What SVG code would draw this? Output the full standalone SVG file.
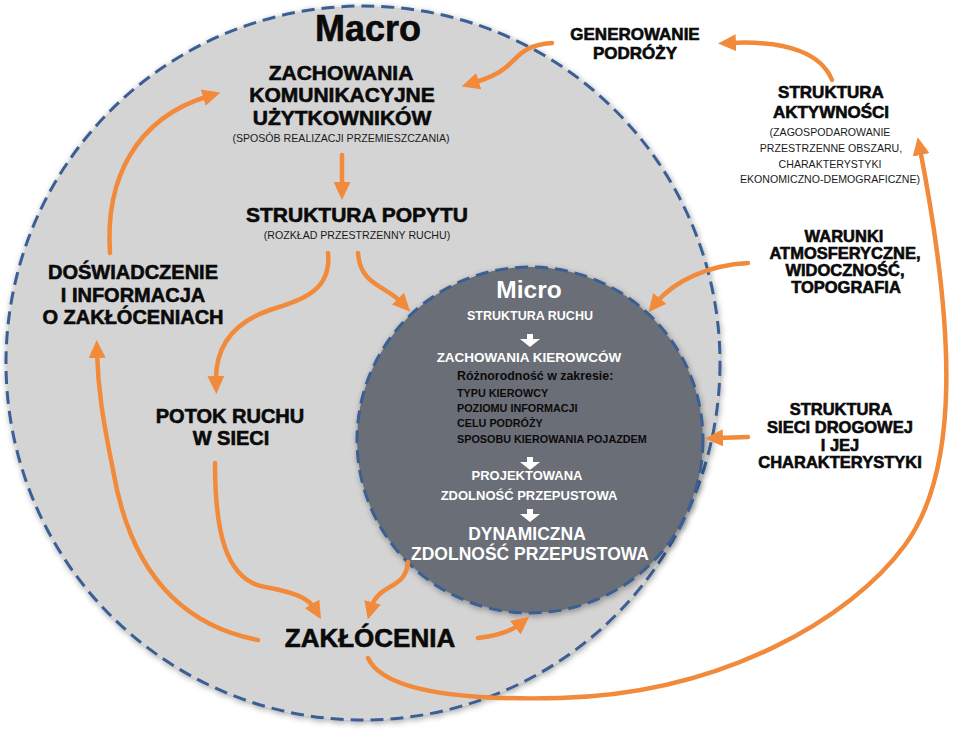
<svg xmlns="http://www.w3.org/2000/svg" width="963" height="735" viewBox="0 0 963 735">
<style>
.h{font-family:"Liberation Sans",Arial,sans-serif;font-weight:bold;fill:#0a0a0a;stroke:#0a0a0a;stroke-width:0.6;text-anchor:middle}
.s{font-family:"Liberation Sans",Arial,sans-serif;font-size:10.6px;fill:#1a1a1a;text-anchor:middle}
.w{font-family:"Liberation Sans",Arial,sans-serif;font-weight:bold;fill:#ffffff;text-anchor:middle}
.k{font-family:"Liberation Sans",Arial,sans-serif;font-weight:bold;fill:#0a0a0a}
.c{fill:none;stroke:#f28a3c;stroke-width:4.5;stroke-linecap:round;marker-end:url(#ah)}
.wa{fill:#ffffff}
</style>
<defs>
<marker id="ah" viewBox="0 0 18 17" markerWidth="18" markerHeight="17" refX="6" refY="8.5" orient="auto" markerUnits="userSpaceOnUse">
<path d="M0,0 L18,8.5 L0,17 z" fill="#f28a3c"/>
</marker>
<filter id="sh" x="-10%" y="-10%" width="120%" height="120%">
<feGaussianBlur in="SourceAlpha" stdDeviation="3"/>
<feOffset dx="1" dy="2" result="b"/>
<feComponentTransfer><feFuncA type="linear" slope="0.35"/></feComponentTransfer>
<feMerge><feMergeNode/><feMergeNode in="SourceGraphic"/></feMerge>
</filter>
</defs>
<rect width="963" height="735" fill="#ffffff"/>

<g id="macro">
<circle cx="363" cy="363" r="357" fill="#d4d4d4" stroke="#3b5f94" stroke-width="3" stroke-dasharray="13 7" filter="url(#sh)"/>
<text class="h" x="368" y="41" font-size="36">Macro</text>
</g>

<g id="micro">
<circle cx="530" cy="440" r="173" fill="#6b6e76" stroke="#3b5f94" stroke-width="3" stroke-dasharray="13 7" filter="url(#sh)"/>
<text class="w" x="529" y="298" font-size="24.5">Micro</text>
<text class="w" x="530" y="320" font-size="12.5">STRUKTURA RUCHU</text>
<path class="wa" d="M527,334 h6 v5 h7 l-10,8 l-10,-8 h7 z"/>
<text class="w" x="529" y="362" font-size="13.5">ZACHOWANIA KIEROWCÓW</text>
<text class="k" x="457" y="380" font-size="12.4">Różnorodność w zakresie:</text>
<text class="k" x="457" y="397" font-size="10.8">TYPU KIEROWCY</text>
<text class="k" x="457" y="412" font-size="10.8">POZIOMU INFORMACJI</text>
<text class="k" x="457" y="427" font-size="10.8">CELU PODRÓŻY</text>
<text class="k" x="457" y="443" font-size="10.8">SPOSOBU KIEROWANIA POJAZDEM</text>
<path class="wa" d="M527,457 h6 v5 h7 l-10,8 l-10,-8 h7 z"/>
<text class="w" x="527" y="480" font-size="13">PROJEKTOWANA</text>
<text class="w" x="529" y="500" font-size="13">ZDOLNOŚĆ PRZEPUSTOWA</text>
<path class="wa" d="M527,509 h6 v5 h7 l-10,8 l-10,-8 h7 z"/>
<text class="w" x="527" y="540" font-size="17.5">DYNAMICZNA</text>
<text class="w" x="530" y="560" font-size="17.5">ZDOLNOŚĆ PRZEPUSTOWA</text>
</g>

<g id="zachowania">
<text class="h" x="341" y="80" font-size="21">ZACHOWANIA</text>
<text class="h" x="342" y="102" font-size="21">KOMUNIKACYJNE</text>
<text class="h" x="342" y="125" font-size="21">UŻYTKOWNIKÓW</text>
<text class="s" x="341" y="142">(SPOSÓB REALIZACJI PRZEMIESZCZANIA)</text>
</g>

<g id="popyt">
<text class="h" x="357" y="222" font-size="21">STRUKTURA POPYTU</text>
<text class="s" x="357" y="239">(ROZKŁAD PRZESTRZENNY RUCHU)</text>
</g>

<g id="generowanie">
<text class="h" x="635" y="40" font-size="17">GENEROWANIE</text>
<text class="h" x="635" y="59" font-size="17">PODRÓŻY</text>
</g>

<g id="aktywnosc">
<text class="h" x="831" y="98" font-size="17">STRUKTURA</text>
<text class="h" x="831" y="118" font-size="17">AKTYWNOŚCI</text>
<text class="s" x="830" y="136">(ZAGOSPODAROWANIE</text>
<text class="s" x="831" y="152">PRZESTRZENNE OBSZARU,</text>
<text class="s" x="830" y="168">CHARAKTERYSTYKI</text>
<text class="s" x="830" y="183">EKONOMICZNO-DEMOGRAFICZNE)</text>
</g>

<g id="warunki">
<text class="h" x="844" y="242" font-size="16.5">WARUNKI</text>
<text class="h" x="845" y="259" font-size="16.5">ATMOSFERYCZNE,</text>
<text class="h" x="845" y="276" font-size="16.5">WIDOCZNOŚĆ,</text>
<text class="h" x="846" y="293" font-size="16.5">TOPOGRAFIA</text>
</g>

<g id="siec">
<text class="h" x="841" y="415" font-size="16.5">STRUKTURA</text>
<text class="h" x="840" y="433" font-size="16.5">SIECI DROGOWEJ</text>
<text class="h" x="840" y="451" font-size="16.5">I JEJ</text>
<text class="h" x="840" y="468" font-size="16.5">CHARAKTERYSTYKI</text>
</g>

<g id="doswiadczenie">
<text class="h" x="133" y="279" font-size="20">DOŚWIADCZENIE</text>
<text class="h" x="133" y="302" font-size="20">I INFORMACJA</text>
<text class="h" x="133" y="324" font-size="20">O ZAKŁÓCENIACH</text>
</g>

<g id="potok">
<text class="h" x="230" y="423" font-size="20">POTOK RUCHU</text>
<text class="h" x="231" y="445" font-size="20">W SIECI</text>
</g>

<g id="zaklocenia">
<text class="h" x="370" y="647" font-size="26">ZAKŁÓCENIA</text>
</g>

<g id="connectors">
<path class="c" d="M552,43 C522,45 518,58 505,68 C497,75 486,79 473,83"/>
<path class="c" d="M832,80 C822,55 790,40 730,43"/>
<path class="c" d="M368,658 C385,695 480,700 560,698 C720,694 850,620 905,545 C960,470 955,330 920,149"/>
<path class="c" d="M110,253 C105,180 135,118 209,96"/>
<path class="c" d="M342,155 L342,188"/>
<path class="c" d="M328,253 C332,292 300,300 270,310 C235,322 215,345 216,382"/>
<path class="c" d="M358,253 C360,285 385,285 402,303"/>
<path class="c" d="M748,263 C710,265 675,280 656,303"/>
<path class="c" d="M748,437 L717,438"/>
<path class="c" d="M215,463 C215,530 225,580 265,587 C292,592 308,597 315,609"/>
<path class="c" d="M408,562 C406,590 378,583 371,608"/>
<path class="c" d="M478,638 C497,636 510,632 520,624"/>
<path class="c" d="M258,640 C180,625 130,570 113,470 C103,420 98,390 97,352"/>
</g>
</svg>
